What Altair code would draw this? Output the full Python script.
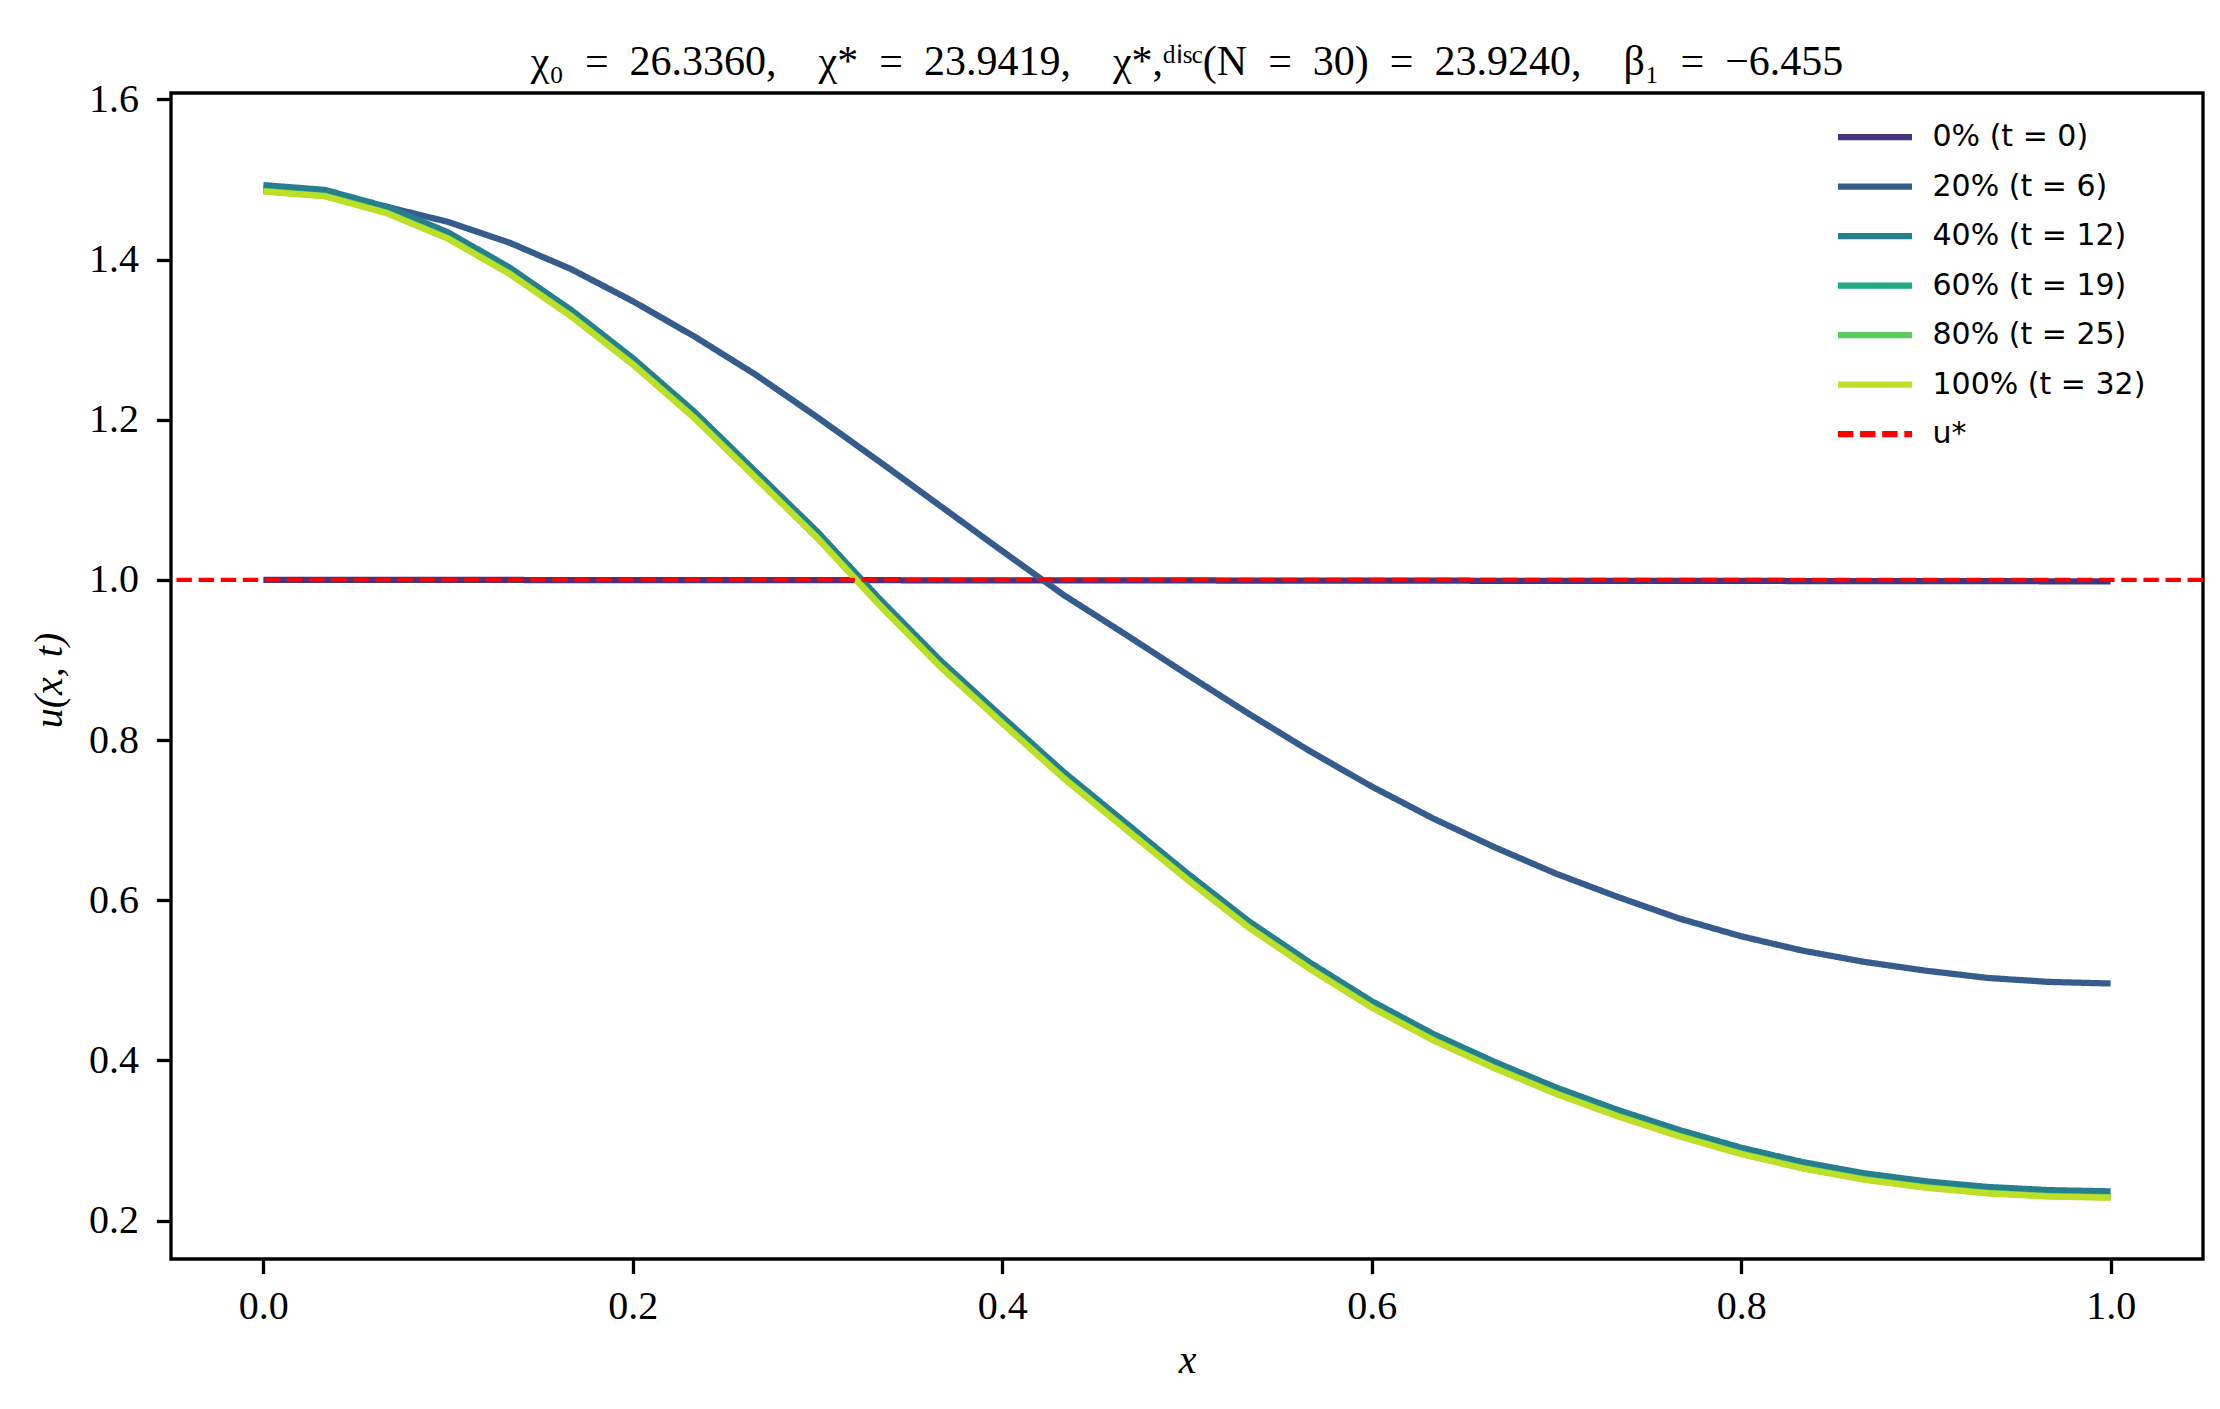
import altair as alt
import numpy as np
import pandas as pd

# grid x_i = i/30, i = 0..30
x_grid = np.linspace(0.0, 1.0, 31)

series_names = ["0% (t = 0)", "20% (t = 6)", "40% (t = 12)", "60% (t = 19)",
                "80% (t = 25)", "100% (t = 32)"]
ustar_name = "u*"
colors = ["#46337e", "#365c8d", "#277f8e", "#22a884", "#5ec962", "#bddf26"]
ustar_color = "#ff0000"
ustar_value = 1.0

u_0 = [1.0000, 1.0000, 0.9999, 0.9999, 0.9999, 0.9998, 0.9998, 0.9997, 0.9997, 0.9996,
       0.9996, 0.9995, 0.9995, 0.9994, 0.9993, 0.9993, 0.9992, 0.9991, 0.9991, 0.9990,
       0.9989, 0.9989, 0.9988, 0.9987, 0.9987, 0.9986, 0.9985, 0.9984, 0.9984, 0.9983, 0.9982]
u_20 = [1.486, 1.480, 1.466, 1.447, 1.421, 1.388, 1.348, 1.304, 1.256, 1.203,
        1.148, 1.092, 1.036, 0.981, 0.932, 0.882, 0.833, 0.786, 0.742, 0.702,
        0.666, 0.633, 0.604, 0.577, 0.555, 0.537, 0.523, 0.512, 0.503, 0.498, 0.496]
u_40 = [1.493, 1.487, 1.466, 1.434, 1.390, 1.337, 1.277, 1.210, 1.135, 1.060,
        0.977, 0.899, 0.829, 0.760, 0.697, 0.634, 0.574, 0.522, 0.474, 0.433,
        0.398, 0.366, 0.338, 0.313, 0.291, 0.273, 0.259, 0.249, 0.242, 0.238, 0.2365]
u_60 = [1.486, 1.480, 1.459, 1.427, 1.383, 1.330, 1.270, 1.203, 1.128, 1.053,
        0.970, 0.892, 0.822, 0.753, 0.690, 0.627, 0.567, 0.515, 0.467, 0.426,
        0.391, 0.359, 0.331, 0.306, 0.284, 0.266, 0.252, 0.242, 0.235, 0.231, 0.2295]
u_80 = [1.4855, 1.4795, 1.4585, 1.4265, 1.3825, 1.3295, 1.2695, 1.2025, 1.1275, 1.0525,
        0.9695, 0.8915, 0.8215, 0.7525, 0.6895, 0.6265, 0.5665, 0.5145, 0.4665, 0.4255,
        0.3905, 0.3585, 0.3305, 0.3055, 0.2835, 0.2655, 0.2515, 0.2415, 0.2345, 0.2305, 0.229]
u_100 = [1.485, 1.479, 1.458, 1.426, 1.382, 1.329, 1.269, 1.202, 1.127, 1.052,
         0.969, 0.891, 0.821, 0.752, 0.689, 0.626, 0.566, 0.514, 0.466, 0.425,
         0.390, 0.358, 0.330, 0.305, 0.283, 0.265, 0.251, 0.241, 0.234, 0.230, 0.2285]

x_ticks = [0.0, 0.2, 0.4, 0.6, 0.8, 1.0]
y_ticks = [0.2, 0.4, 0.6, 0.8, 1.0, 1.2, 1.4, 1.6]

EQ = "\u2002=\u2002"
SEP = ",\u2003"
title_text = ("χ₀" + EQ + "26.3360" + SEP + "χ*" + EQ + "23.9419" + SEP +
              "χ*,ᵈⁱˢᶜ(N" + EQ + "30)" + EQ + "23.9240" + SEP + "β₁" + EQ + "−6.455")

all_u = [u_0, u_20, u_40, u_60, u_80, u_100]
frames = []
for name, vals in zip(series_names, all_u):
    frames.append(pd.DataFrame({"x": x_grid, "u": vals, "series": name}))

domain = series_names + [ustar_name]
crange = colors + [ustar_color]
dash_range = [[1, 0]] * 6 + [[15.4, 6.7]]

legend = alt.Legend(
    title=None, orient="none", legendX=1682, legendY=22,
    symbolType="M-2,0H2", symbolSize=1369, symbolStrokeWidth=6.25,
    labelFont="DejaVu Sans", labelFontSize=30, labelOffset=35.5,
    labelLimit=500, rowPadding=12.5, padding=0, labelColor="black",
)

color_enc = alt.Color("series:N", scale=alt.Scale(domain=domain, range=crange), legend=legend)
dash_enc = alt.StrokeDash("series:N", scale=alt.Scale(domain=domain, range=dash_range), legend=legend)

x_scale = alt.Scale(domain=[-0.05, 1.05], nice=False, zero=False)
y_scale = alt.Scale(domain=[0.152, 1.608], nice=False, zero=False)

x_axis = alt.Axis(values=x_ticks, format=".1f", title="x", titleFontStyle="italic",
                  titleFontWeight="normal", titleY=113, titleBaseline="alphabetic",
                  grid=False, domain=False, labelFlush=False)
y_axis = alt.Axis(values=y_ticks, format=".1f", title="u(x, t)", titleFontStyle="italic",
                  titleFontWeight="normal", titleX=-122, titleY=587, titleBaseline="middle",
                  titleAngle=-90, grid=False, domain=False, labelFlush=False)

layers = []
for df in frames:
    layers.append(alt.Chart(df).mark_line(strokeWidth=6.25).encode(
        x=alt.X("x:Q", scale=x_scale, axis=x_axis),
        y=alt.Y("u:Q", scale=y_scale, axis=y_axis),
        color=color_enc,
        strokeDash=dash_enc,
    ))

ustar_df = pd.DataFrame({"u": [ustar_value], "series": [ustar_name]})
rule = alt.Chart(ustar_df).mark_rule(strokeWidth=4.17).encode(
    y=alt.Y("u:Q", scale=y_scale, axis=y_axis),
    color=color_enc,
    strokeDash=dash_enc,
)
layers.append(rule)

chart = alt.layer(*layers).properties(
    width=2032, height=1166,
    title=alt.TitleParams(title_text, font="Liberation Serif", fontSize=42,
                          fontWeight="normal", baseline="alphabetic", offset=14, dy=52,
                          anchor="middle", color="black"),
    autosize=alt.AutoSizeParams(type="none"),
    padding={"left": 163, "top": 85, "right": 9, "bottom": 140},
    background="white",
).configure_view(
    stroke="black", strokeWidth=3.3
).configure_axis(
    labelFont="Liberation Serif", labelFontSize=40, labelColor="black",
    titleFont="Liberation Serif", titleFontSize=40, titleColor="black",
    tickColor="black", tickWidth=3.3, tickSize=14.6,
)
chart = chart.configure_axisX(labelPadding=13, labelBaseline="top")
chart = chart.configure_axisY(labelPadding=18)

chart.save("out.html", embed_options={"renderer": "svg", "actions": False})
